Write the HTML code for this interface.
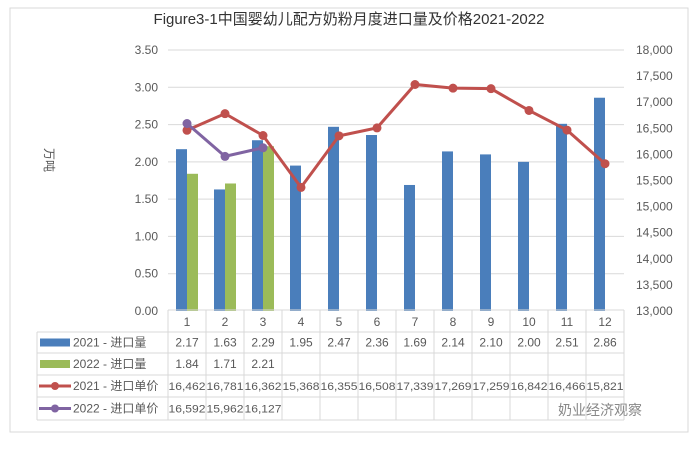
<!DOCTYPE html>
<html><head><meta charset="utf-8"><style>
body{margin:0;background:#fff;font-family:"Liberation Sans","Noto Sans CJK SC",sans-serif;}
svg text{font-family:"Liberation Sans","Noto Sans CJK SC",sans-serif;}
</style></head><body>
<svg id="c" width="697" height="446"></svg>
<script>
const months=["1","2","3","4","5","6","7","8","9","10","11","12"];
const vol2021=[2.17,1.63,2.29,1.95,2.47,2.36,1.69,2.14,2.10,2.00,2.51,2.86];
const vol2022=[1.84,1.71,2.21];
const price2021=[16462,16781,16362,15368,16355,16508,17339,17269,17259,16842,16466,15821];
const price2022=[16592,15962,16127];
const leftTicks=["0.00","0.50","1.00","1.50","2.00","2.50","3.00","3.50"];
const rightTicks=["13,000","13,500","14,000","14,500","15,000","15,500","16,000","16,500","17,000","17,500","18,000"];
const NS="http://www.w3.org/2000/svg",svg=document.getElementById('c');
function mk(t,a,p){const e=document.createElementNS(NS,t);for(const k in a)e.setAttribute(k,a[k]);(p||svg).appendChild(e);return e;}
const L=168,R=624,T=50,B=311,cw=(R-L)/12;
const yL=v=>B-v/3.5*(B-T), yR=v=>B-(v-13000)/5000*(B-T), xC=i=>L+cw*(i+0.5);
let e=mk('rect',{x:10,y:8,width:678,height:424,fill:'none',stroke:'#d9d9d9'});

e=mk('text',{x:349,y:24,'text-anchor':'middle','font-size':15,fill:'#333'});e.textContent='Figure3-1中国婴幼儿配方奶粉月度进口量及价格2021-2022';

e=mk('text',{x:45,y:160,'text-anchor':'middle','font-size':12,fill:'#555',transform:'rotate(90 45 160)'});e.textContent='万吨';

leftTicks.forEach((t,i)=>{const y=yL(parseFloat(t));
 if(i>0){const g=mk('line',{x1:L,x2:R,y1:y,y2:y,stroke:'#d9d9d9'});}
 const s=mk('text',{x:158,y:y+4,'text-anchor':'end','font-size':12,fill:'#595959'});s.textContent=t;
 });
rightTicks.forEach(t=>{const y=yR(parseFloat(t.replace(',','')));
 const s=mk('text',{x:636,y:y+4,'font-size':12,fill:'#595959'});s.textContent=t;
 });
vol2021.forEach((v,i)=>{const b=mk('rect',{x:xC(i)-11,y:yL(v),width:11,height:B-yL(v),fill:'#4a7ebb'});
 });
vol2022.forEach((v,i)=>{const b=mk('rect',{x:xC(i),y:yL(v),width:11,height:B-yL(v),fill:'#9bbb59'});
 });
function line(arr,col,name){const p=mk('polyline',{points:arr.map((v,i)=>xC(i)+','+yR(v)).join(' '),fill:'none',stroke:col,'stroke-width':3});
 
 arr.forEach((v,i)=>{const c=mk('circle',{cx:xC(i),cy:yR(v),r:4.5,fill:col});});}
line(price2021,'#c0504d','price-2021');line(price2022,'#8064a2','price-2022');
// table
const rows=[310,332,353,375,397,420],tl=37;
const gl=(x1,y1,x2,y2)=>{const l=mk('line',{x1,y1,x2,y2,stroke:'#d9d9d9'});};
for(let i=1;i<rows.length;i++)gl(tl,rows[i],R,rows[i]);
gl(L,rows[0],R,rows[0]);
for(let i=0;i<=12;i++)gl(L+cw*i,rows[0],L+cw*i,rows[5]);
gl(tl,rows[1],tl,rows[5]);
months.forEach((m,i)=>{const s=mk('text',{x:xC(i),y:326,'text-anchor':'middle','font-size':12,fill:'#595959'});s.textContent=m;
 });
const series=[[vol2021,'2021 - 进口量','#4a7ebb','bar',v=>v.toFixed(2)],[vol2022,'2022 - 进口量','#9bbb59','bar',v=>v.toFixed(2)],
 [price2021,'2021 - 进口单价','#c0504d','line',v=>v.toLocaleString('en-US')],[price2022,'2022 - 进口单价','#8064a2','line',v=>v.toLocaleString('en-US')]];
series.forEach((s,r)=>{const cy=(rows[r+1]+rows[r+2])/2;
 if(s[3]=='bar'){const k=mk('rect',{x:40,y:cy-4,width:30,height:8,fill:s[2]});}
 else{const k=mk('line',{x1:39,x2:71,y1:cy,y2:cy,stroke:s[2],'stroke-width':3});
  const c=mk('circle',{cx:55,cy:cy,r:4,fill:s[2]});}
 const t=mk('text',{x:73,y:cy+4,'font-size':12,fill:'#595959'});t.textContent=s[1];
 s[0].forEach((v,i)=>{const d=mk('text',{x:xC(i),y:cy+4,'text-anchor':'middle','font-size':s[3]=='bar'?12:11,fill:'#595959',textLength:s[3]=='bar'?null:37});
  if(s[3]!='bar'){d.setAttribute('textLength',37);d.setAttribute('lengthAdjust','spacingAndGlyphs');}else d.removeAttribute('textLength');
  d.textContent=s[4](v);});});
e=mk('text',{x:600,y:415,'text-anchor':'middle','font-size':14,fill:'#888'});e.textContent='奶业经济观察';

</script>
</body></html>
